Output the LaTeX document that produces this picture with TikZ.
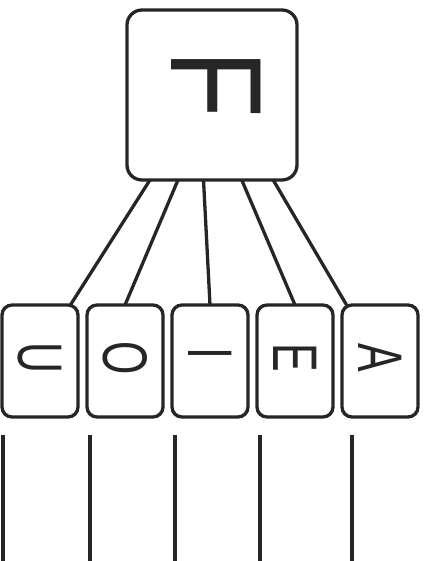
\documentclass[tikz,border=0pt]{standalone}
\usepackage{fontspec}
\setsansfont{Liberation Sans}
\usepackage{graphicx}
\usetikzlibrary{calc, positioning}

\tikzset{
  keybox/.style={draw=black!85, line width=3.3pt, rounded corners=10pt,
    minimum width=76pt, minimum height=112pt, inner sep=0pt, outer sep=0pt,
    font=\sffamily\fontsize{63}{63}\selectfont, text=black!85},
  bigbox/.style={keybox, rounded corners=15pt, minimum width=170pt,
    minimum height=170pt},
  wire/.style={draw=black!85, line width=3.3pt}
}
\newcommand{\turned}[2][0.68]{\rotatebox[origin=c]{-90}{\scalebox{#1}[1]{#2}}}

\begin{document}
\begin{tikzpicture}[x=1pt, y=-1pt]
                \useasboundingbox (0,0) rectangle (424,561);
                \node[bigbox, label={[xshift=4pt, yshift=5pt, text=black!85,
                    font=\sffamily\fontsize{130}{130}\selectfont]center:\turned[0.85]{F}}] (F) at (212,95) {};
                \node[keybox] (U) at (40,361) {\turned{U}};
                \node[keybox, right=9pt of U] (O) {\turned{O}};
                \node[keybox, right=9pt of O] (I) {\turned{I}};
                \node[keybox, right=9pt of I] (E) {\turned{E}};
                \node[keybox, right=9pt of E] (A) {\turned{A}};
                \coordinate (t1) at ($(F.south west)!0.135!(F.south east)$);
                \coordinate (t2) at ($(F.south west)!0.30!(F.south east)$);
                \coordinate (t3) at ($(F.south west)!0.45!(F.south east)$);
                \coordinate (t4) at ($(F.south west)!0.675!(F.south east)$);
                \coordinate (t5) at ($(F.south west)!0.86!(F.south east)$);
                \draw[wire] (t1) -- ($(U.north west)!0.9!(U.north east)$);
                \draw[wire] (t2) -- (O.north);
                \draw[wire] (t3) -- (I.north);
                \draw[wire] (t4) -- (E.north);
                \draw[wire] (t5) -- ($(A.north west)!0.06!(A.north east)$);
                \coordinate (b1) at (3,435);
                \coordinate (b2) at (90,435);
                \coordinate (b3) at (175,435);
                \coordinate (b4) at (260,435);
                \coordinate (b5) at (352,435);
                \foreach \b in {b1,b2,b3,b4,b5}
                    \draw[wire] (\b) -- ++(0,130);
            \end{tikzpicture}
\end{document}
